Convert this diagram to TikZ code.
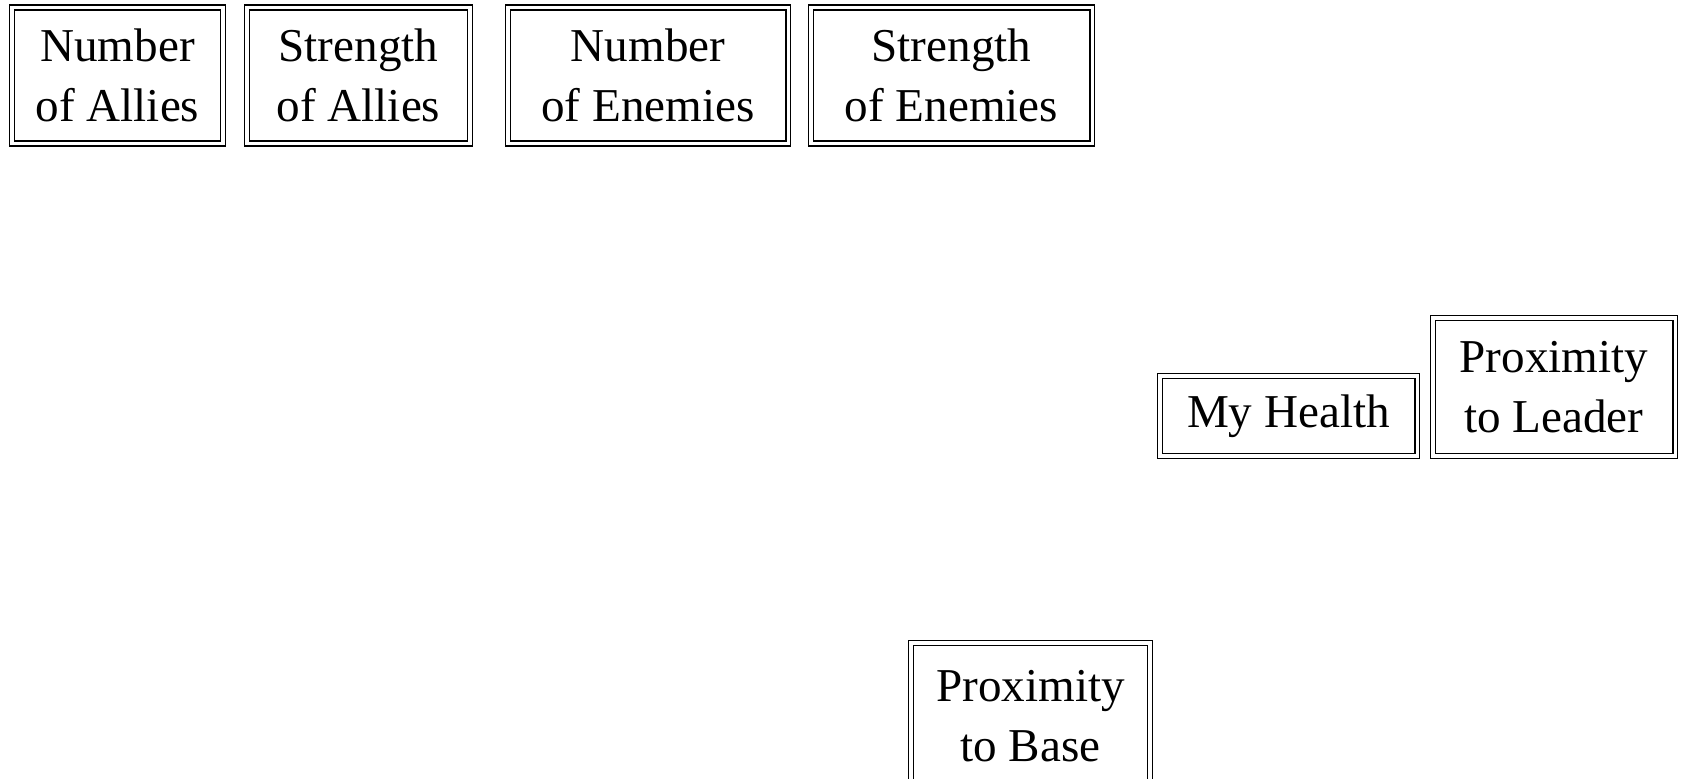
\documentclass[tikz,border=0pt]{standalone}
\usepackage{fontspec}
\setmainfont{Liberation Serif}
\usepackage{tikz}

\tikzset{
  factor/.style={draw, double, line width=0.45pt, double distance=0.9pt,
    align=center, inner sep=0pt, minimum height=1.36cm,
    font=\fontsize{13.4}{17}\selectfont},
}

\begin{document}
\begin{tikzpicture}[x=0.01cm, y=-0.01cm]

    \useasboundingbox (0, 0) rectangle (1681, 778);

    \node [factor, minimum width=2.11cm] (numallies) at (117.5, 75.5) {Number\\of Allies};
    \node [factor, minimum width=2.23cm] (strallies) at (358.5, 75.5) {Strength\\of Allies};
    \node [factor, minimum width=2.80cm] (numenemies) at (648, 75.5) {Number\\of Enemies};
    \node [factor, minimum width=2.81cm] (strenemies) at (951.5, 75.5) {Strength\\of Enemies};

    \node [factor, minimum width=2.57cm, minimum height=0.80cm] (health) at (1288.5, 416) {My Health};
    \node [factor, minimum width=2.42cm, minimum height=1.38cm] (leader) at (1554, 387) {Proximity\\to Leader};

    \node [factor, minimum width=2.39cm, minimum height=1.46cm] (base) at (1030.5, 716) {Proximity\\to Base};

  \end{tikzpicture}
\end{document}
